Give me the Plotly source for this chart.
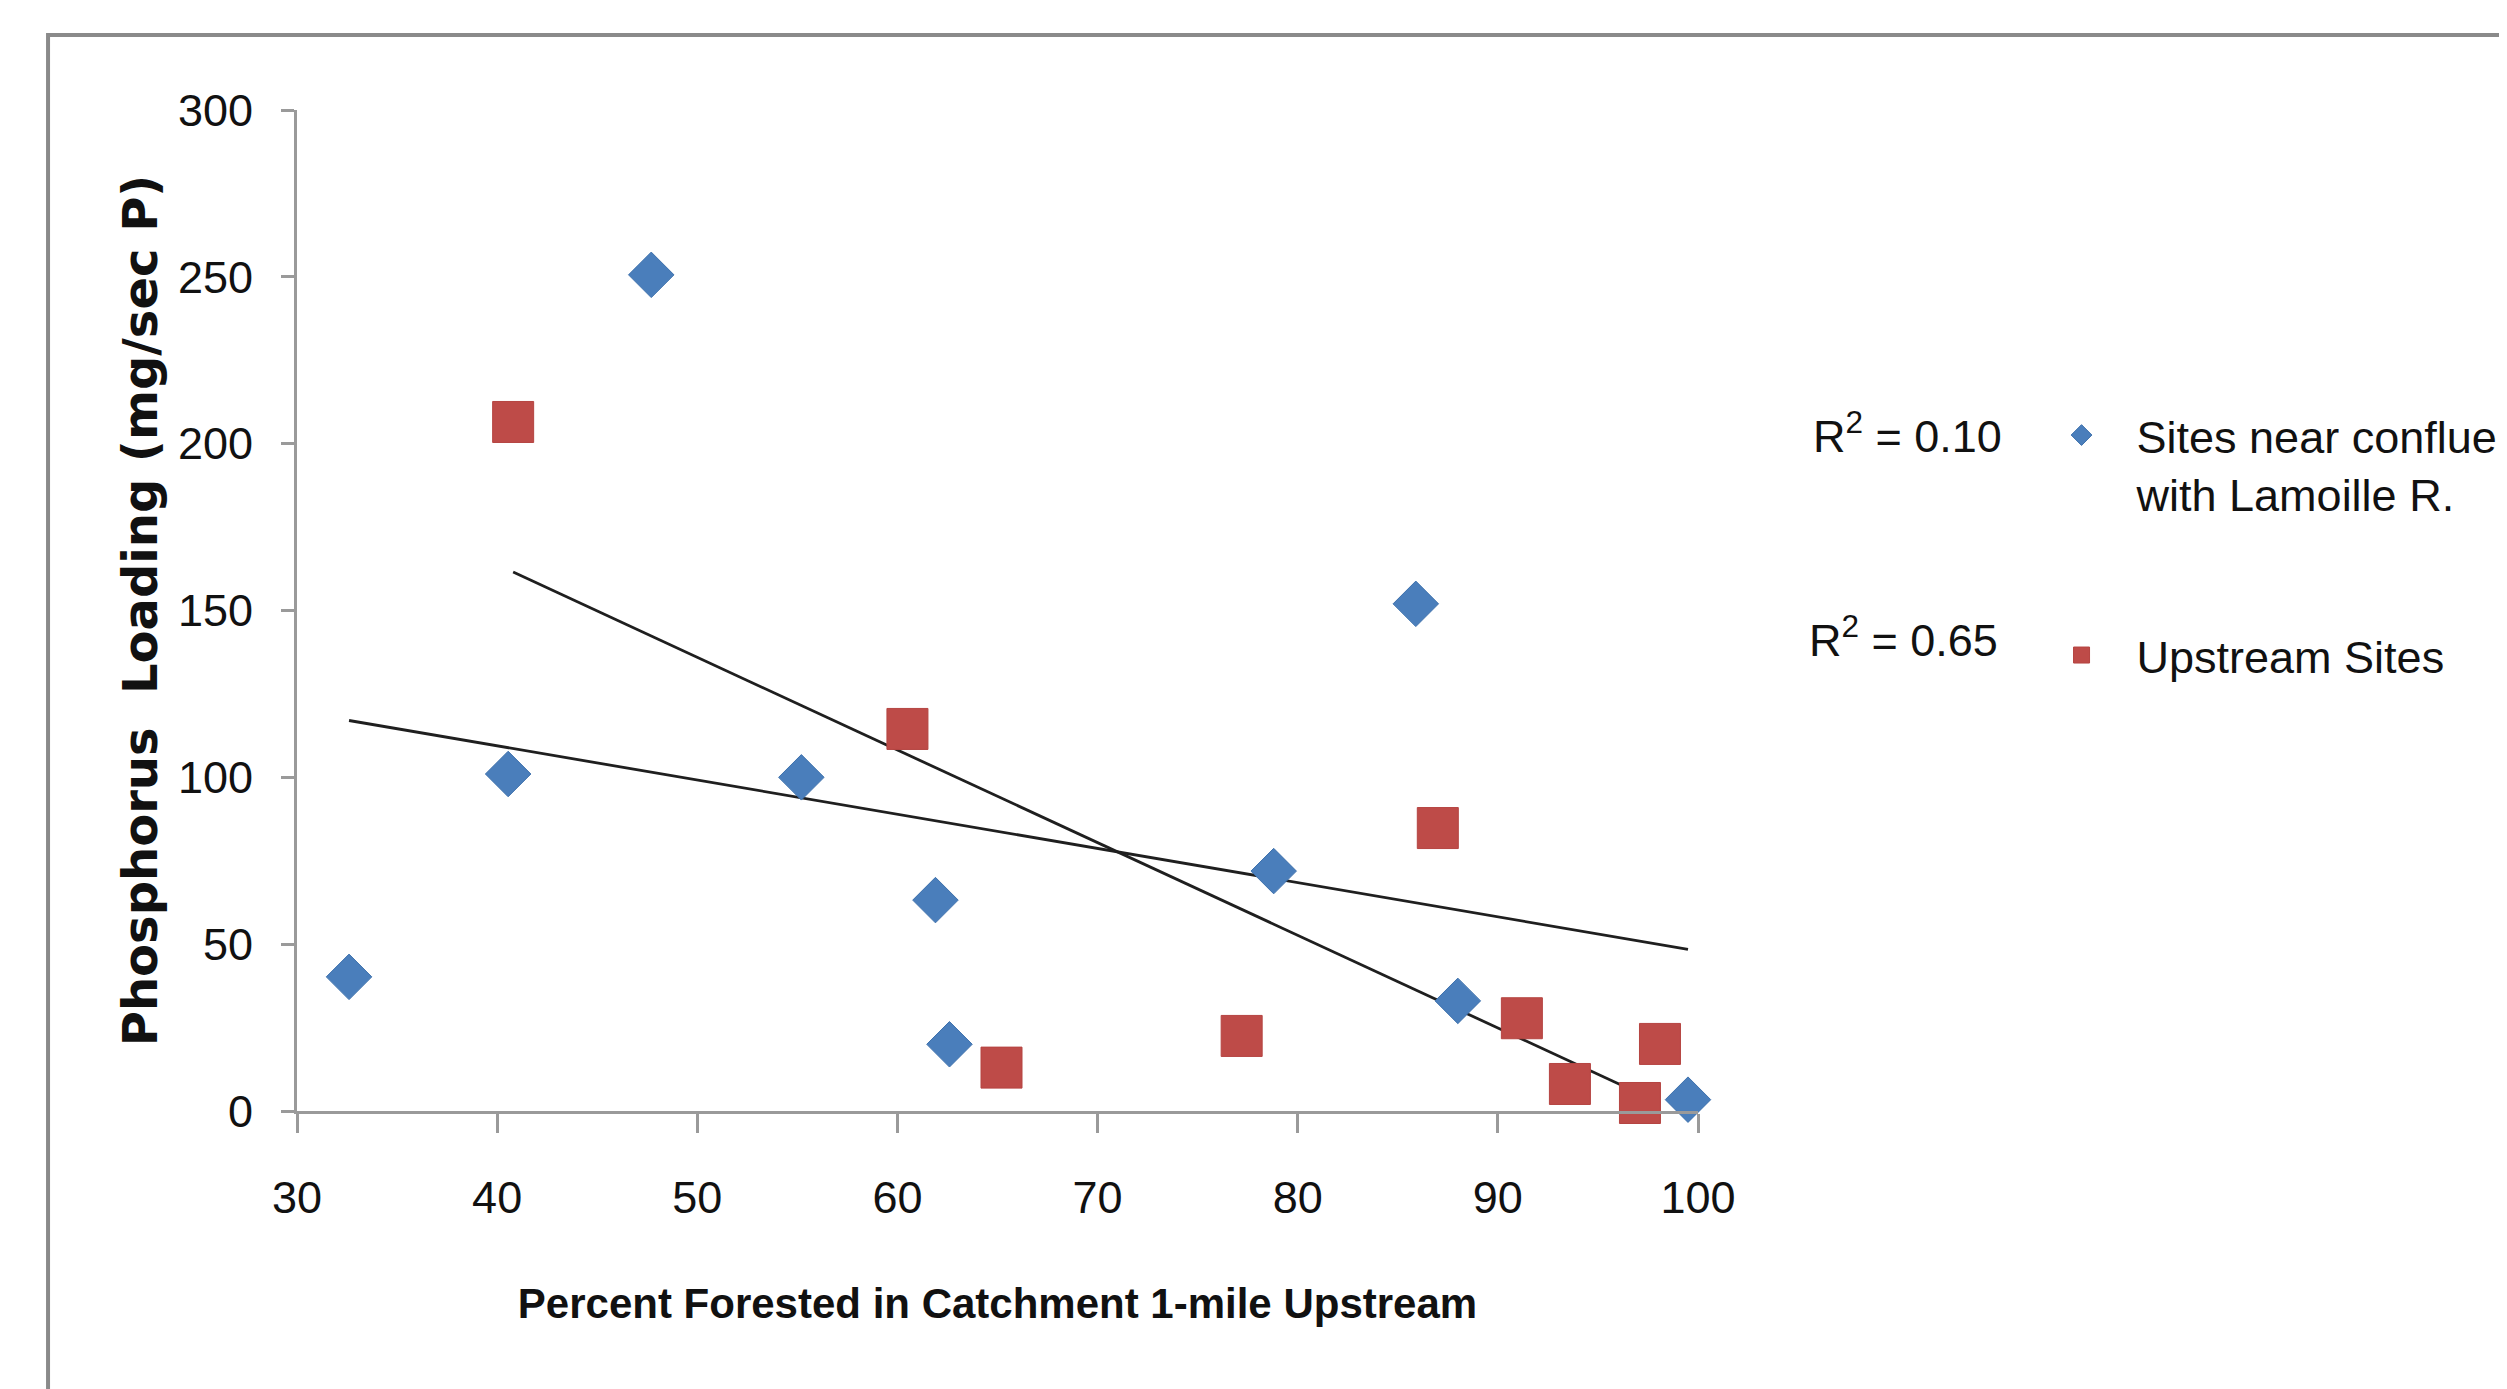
import numpy as np
import plotly.graph_objects as go

# ---- data ----
confluence_x = [32.6, 40.55, 47.7, 55.2, 61.9, 62.6, 78.8, 85.9, 88.0, 99.5]
confluence_y = [40.2, 101.0, 250.6, 100.0, 63.2, 20.0, 71.9, 152.0, 33.0, 3.4]
upstream_x = [40.8, 60.5, 65.2, 77.2, 87.0, 91.2, 93.6, 97.1, 98.1]
upstream_y = [206.5, 114.5, 13.0, 22.5, 84.8, 27.8, 8.1, 2.4, 20.1]
series_names = ["Sites near confluence<br>with Lamoille R.", "Upstream Sites"]
r2_labels = ["R<sup>2</sup> = 0.10", "R<sup>2</sup> = 0.65"]
x_ticks = [30, 40, 50, 60, 70, 80, 90, 100]
y_ticks = [0, 50, 100, 150, 200, 250, 300]
x_title = "Percent Forested in Catchment 1-mile Upstream"
y_title = "Phosphorus  Loading (mg/sec P)"

BLUE = "#4a7ebb"
RED = "#be4b48"
SANS = "Liberation Sans, Arial, sans-serif"
TEXT = "#111111"


def trend(xs, ys):
    slope, icpt = np.polyfit(xs, ys, 1)
    tx = np.array([min(xs), max(xs)])
    return tx, slope * tx + icpt


fig = go.Figure()

# trendlines (least-squares fits of the two series)
for xs, ys in [(confluence_x, confluence_y), (upstream_x, upstream_y)]:
    tx, ty = trend(xs, ys)
    fig.add_trace(go.Scatter(x=tx, y=ty, mode="lines", showlegend=False,
                             line=dict(color="#1f1f1f", width=2.8),
                             hoverinfo="skip"))

fig.add_trace(go.Scatter(
    x=confluence_x, y=confluence_y, mode="markers", name=series_names[0],
    legendgroup="a", cliponaxis=False,
    marker=dict(symbol="diamond", size=35, color=BLUE,
                line=dict(color="#3f72ad", width=1))))
fig.add_trace(go.Scatter(
    x=upstream_x, y=upstream_y, mode="markers", name=series_names[1],
    legendgroup="b", cliponaxis=False,
    marker=dict(symbol="square", size=41, color=RED,
                line=dict(color="#b54441", width=1))))

# R^2 labels beside the legend
r2_pos = [(1.081, 0.677), (1.078, 0.474)]
for lbl, (px, py) in zip(r2_labels, r2_pos):
    fig.add_annotation(text=lbl, x=px, y=py, xref="paper", yref="paper",
                       xanchor="left", yanchor="middle", showarrow=False,
                       font=dict(family=SANS, size=45, color=TEXT))

# outer frame of the chart area (cropped at right and bottom)
fig.add_shape(type="rect", xref="paper", yref="paper",
              x0=-0.1777, x1=1.8, y0=-0.45, y1=1.0749,
              line=dict(color="#8a8a8a", width=4), fillcolor="rgba(0,0,0,0)",
              layer="below")

axis_common = dict(showgrid=False, zeroline=False, showline=True,
                   linecolor="#9a9a9a", linewidth=3, ticks="outside",
                   tickcolor="#9a9a9a", tickwidth=3,
                   tickfont=dict(family=SANS, size=45, color=TEXT))

fig.update_xaxes(range=[30, 100], tickvals=x_ticks, ticklen=19,
                 ticklabelstandoff=26,
                 title=dict(text=x_title, standoff=67,
                            font=dict(family=SANS, size=42, color=TEXT,
                                      weight="bold")),
                 **axis_common)
fig.update_yaxes(range=[0, 300], tickvals=y_ticks, ticklen=13,
                 ticklabelstandoff=19,
                 title=dict(text=y_title, standoff=6,
                            font=dict(family="DejaVu Sans", size=48,
                                      color=TEXT, weight="bold")),
                 **axis_common)

# the page body adds an 8px margin, so the figure is 8px smaller
fig.update_layout(
    width=2499, height=1381,
    margin=dict(l=289, r=809, t=102, b=278, autoexpand=False),
    paper_bgcolor="white", plot_bgcolor="white",
    showlegend=True,
    legend=dict(x=1.2345, y=0.711, xanchor="left", yanchor="top",
                font=dict(family=SANS, size=45, color=TEXT),
                traceorder="grouped", tracegroupgap=100, itemwidth=100,
                valign="top", bgcolor="rgba(0,0,0,0)"),
)

fig.write_html("out.html")
